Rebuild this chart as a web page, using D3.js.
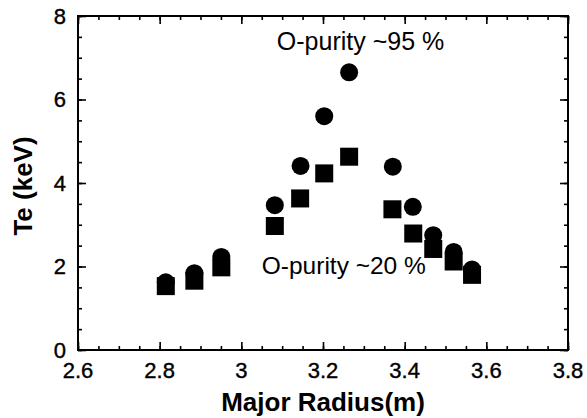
<!DOCTYPE html>
<html>
<head>
<meta charset="utf-8">
<script src="https://cdn.jsdelivr.net/npm/d3@7"></script>
<style>
  body { margin: 0; background: #fff; }
  svg { display: block; font-family: "Liberation Sans", Arial, sans-serif; }
</style>
</head>
<body>
<div id="chart"></div>
<script>
// Te profile vs major radius, two oxygen-purity cases
const radius95 = [2.815, 2.885, 2.951, 3.082, 3.145, 3.203, 3.264, 3.371, 3.42, 3.47, 3.52, 3.565];
const te95     = [1.62, 1.84, 2.23, 3.47, 4.41, 5.60, 6.65, 4.39, 3.43, 2.75, 2.35, 1.93];
const radius20 = [2.815, 2.885, 2.951, 3.082, 3.144, 3.203, 3.264, 3.37, 3.421, 3.47, 3.52, 3.565];
const te20     = [1.53, 1.66, 1.98, 2.97, 3.63, 4.23, 4.63, 3.37, 2.79, 2.42, 2.12, 1.80];
const xTicks = [2.6, 2.8, 3.0, 3.2, 3.4, 3.6, 3.8];
const yTicks = [0, 2, 4, 6, 8];

(function() {
  const width = 587, height = 418;
  const margin = {left: 78, right: 19, top: 16, bottom: 68};
  const iw = width - margin.left - margin.right;
  const ih = height - margin.top - margin.bottom;

  const svg = d3.select("#chart").append("svg")
    .attr("width", width)
    .attr("height", height);
  const g = svg.append("g")
    .attr("transform", `translate(${margin.left},${margin.top})`);

  const x = d3.scaleLinear().domain([2.6, 3.8]).range([0, iw]);
  const y = d3.scaleLinear().domain([0, 8]).range([ih, 0]);

  // minor / major tick lists
  const xMinor = d3.range(0, 25).map(i => 2.6 + i * 0.05);
  const yMinor = d3.range(0, 17).map(i => i * 0.5);

  function tickAxis(axisFn, scale, minor, major, tr) {
    const a1 = g.append("g").attr("transform", tr)
      .call(axisFn(scale).tickValues(minor).tickSize(-4).tickFormat(""));
    const a2 = g.append("g").attr("transform", tr)
      .call(axisFn(scale).tickValues(major).tickSize(-8).tickFormat(""));
    [a1, a2].forEach(a => {
      a.select(".domain").remove();
      a.selectAll("line").attr("stroke", "#000").attr("stroke-width", 1.6);
    });
  }

  tickAxis(d3.axisBottom, x, xMinor, xTicks, `translate(0,${ih})`);
  tickAxis(d3.axisTop, x, xMinor, xTicks, "translate(0,0)");
  tickAxis(d3.axisLeft, y, yMinor, yTicks, "translate(0,0)");
  tickAxis(d3.axisRight, y, yMinor, yTicks, `translate(${iw},0)`);

  // frame
  g.append("rect")
    .attr("width", iw).attr("height", ih)
    .attr("fill", "none").attr("stroke", "#000").attr("stroke-width", 2);

  // tick labels
  g.selectAll(".xl").data(xTicks).join("text")
    .attr("x", d => x(d)).attr("y", ih + 28)
    .attr("text-anchor", "middle")
    .style("font-size", "22px")
    .attr("stroke", "#000").attr("stroke-width", 0.4)
    .text(d => d3.format("")(d));

  g.selectAll(".yl").data(yTicks).join("text")
    .attr("x", -12).attr("y", d => y(d)).attr("dy", "0.36em")
    .attr("text-anchor", "end")
    .style("font-size", "22px")
    .attr("stroke", "#000").attr("stroke-width", 0.4)
    .text(d => d);

  // axis titles
  svg.append("text")
    .attr("x", margin.left + iw / 2).attr("y", 411)
    .attr("text-anchor", "middle")
    .style("font-size", "26px").style("font-weight", "bold")
    .text("Major Radius(m)");

  svg.append("text")
    .attr("transform", `translate(32,${margin.top + 170}) rotate(-90)`)
    .attr("text-anchor", "middle")
    .style("font-size", "26px").style("font-weight", "bold")
    .text("Te (keV)");

  // markers
  const s = 18;
  g.selectAll(".sq").data(radius20.map((r, i) => [r, te20[i]])).join("rect")
    .attr("x", d => x(d[0]) - s / 2).attr("y", d => y(d[1]) - s / 2)
    .attr("width", s).attr("height", s).attr("fill", "#000");

  g.selectAll(".ci").data(radius95.map((r, i) => [r, te95[i]])).join("circle")
    .attr("cx", d => x(d[0])).attr("cy", d => y(d[1]))
    .attr("r", s / 2).attr("fill", "#000");

  // annotations
  g.append("text")
    .attr("x", x(3.087)).attr("y", y(7.19))
    .style("font-size", "25px")
    .text("O-purity ~95 %");

  g.append("text")
    .attr("x", x(3.05)).attr("y", y(1.82))
    .style("font-size", "24.5px")
    .text("O-purity ~20 %");
})();
</script>
</body>
</html>
